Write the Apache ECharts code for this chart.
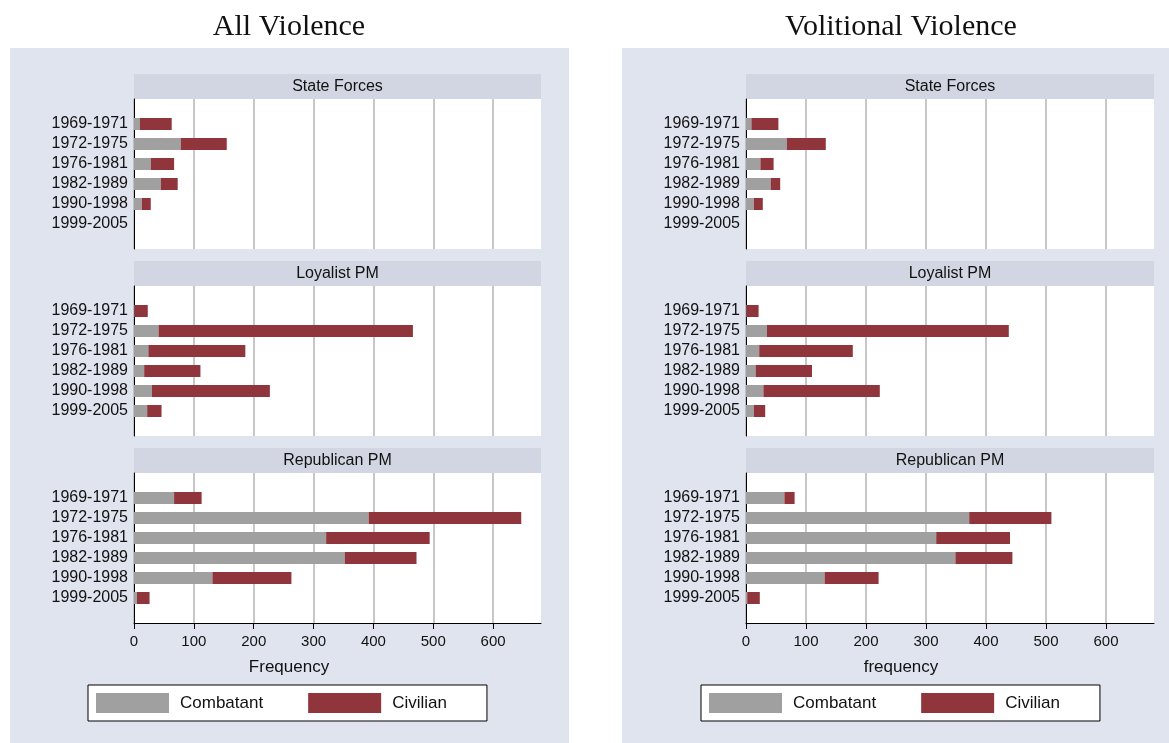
<!DOCTYPE html>
<html><head><meta charset="utf-8">
<script src="https://cdn.jsdelivr.net/npm/echarts@6/dist/echarts.min.js"></script>
<style>html,body{margin:0;padding:0;background:#fff}#c{width:1169px;height:743px}</style>
</head><body><div id="c"></div>
<script>
const periods = ['1969-1971','1972-1975','1976-1981','1982-1989','1990-1998','1999-2005'];
const groups = ['State Forces','Loyalist PM','Republican PM'];
const xTicks = [0,100,200,300,400,500,600];
// All Violence
const allStateComb = [10,78,28,45,13,0];
const allStateCiv  = [53,77,39,28,15,0];
const allLoyComb   = [1,41,24,17,30,22];
const allLoyCiv    = [22,425,162,94,197,24];
const allRepComb   = [67,392,321,352,131,5];
const allRepCiv    = [46,255,173,120,132,21];
// Volitional Violence
const volStateComb = [9,68,24,41,13,0];
const volStateCiv  = [45,65,22,16,15,0];
const volLoyComb   = [1,35,22,16,29,13];
const volLoyCiv    = [20,403,156,94,194,19];
const volRepComb   = [64,372,317,349,131,2];
const volRepCiv    = [17,137,123,95,90,21];

const COMB = '#a0a0a0', CIV = '#90353c';
const PANEL = '#e0e4ef', HEAD = '#d1d6e2', GRIDC = '#b5b5b5';
const FONT = 'Liberation Sans, Arial, sans-serif';
const XMAX = 680;
const TICKMAX = xTicks[xTicks.length-1];

const panels = [
  {title:'All Violence', xlab:'Frequency', px:10, cx:289, left:134, width:407, legendLeft:88,
   data:[[allStateComb,allStateCiv],[allLoyComb,allLoyCiv],[allRepComb,allRepCiv]]},
  {title:'Volitional Violence', xlab:'frequency', px:622, cx:901, left:746, width:408, legendLeft:701,
   data:[[volStateComb,volStateCiv],[volLoyComb,volLoyCiv],[volRepComb,volRepCiv]]}
];
const plotTops = [99,286,473];
const grid=[], xAxis=[], yAxis=[], series=[], graphic=[], legend=[];

panels.forEach((p,pi)=>{
  graphic.push({type:'rect', z:-100, shape:{x:p.px,y:48,width:559,height:695}, style:{fill:PANEL}});
  graphic.push({type:'text', x:p.cx, y:27, style:{text:p.title, font:'30px "Liberation Serif", serif', fill:'#111', align:'center', verticalAlign:'middle'}});
  graphic.push({type:'text', x:p.cx, y:667, style:{text:p.xlab, font:'17px '+FONT, fill:'#111', align:'center', verticalAlign:'middle'}});
  p.data.forEach((d,gi)=>{
    const top = plotTops[gi];
    const isBottom = gi===2;
    graphic.push({type:'rect', shape:{x:p.left,y:top-25,width:p.width,height:25}, style:{fill:HEAD}});
    graphic.push({type:'text', x:p.left+p.width/2, y:top-12.5, style:{text:groups[gi], font:'16px '+FONT, fill:'#111', align:'center', verticalAlign:'middle'}});
    // plot area: white background, gridlines
    const gl = grid.length;
    grid.push({left:p.left, top:top, width:p.width*TICKMAX/XMAX, height:150});
    xAxis.push({type:'value', gridIndex:gl, min:0, max:TICKMAX, interval:100, z:0,
      axisLine:{show:false},
      axisTick:{show:isBottom, length:6, lineStyle:{color:'#000'}},
      axisLabel:{show:isBottom, margin:11, fontSize:15, color:'#111', fontFamily:FONT},
      splitLine:{show:true, lineStyle:{color:GRIDC, width:1.5}}});
    yAxis.push({type:'value', gridIndex:gl, min:0, max:1, show:false, splitLine:{show:false}});
    // axis-line grid (full width)
    const bg = grid.length;
    grid.push({left:p.left, top:top, width:p.width, height:150, show:true, backgroundColor:'#fff', borderWidth:0});
    xAxis.push({type:'value', gridIndex:bg, min:0, max:XMAX, z:1,
      axisLine:{show:isBottom, onZero:false, lineStyle:{color:'#000', width:1}},
      axisTick:{show:false}, axisLabel:{show:false}, splitLine:{show:false}});
    yAxis.push({type:'value', gridIndex:bg, min:0, max:1, z:1,
      axisLine:{show:true, onZero:false, lineStyle:{color:'#000', width:1}},
      axisTick:{show:false}, axisLabel:{show:false}, splitLine:{show:false}});
    // bar grid
    const bi = grid.length;
    grid.push({left:p.left, top:top+15, width:p.width, height:120});
    xAxis.push({type:'value', gridIndex:bi, min:0, max:XMAX, show:false, splitLine:{show:false}});
    yAxis.push({type:'category', gridIndex:bi, data:periods, inverse:true,
      axisLine:{show:false}, axisTick:{show:false}, splitLine:{show:false},
      axisLabel:{interval:0, margin:6, fontSize:16, color:'#111', fontFamily:FONT}});
    const stack = 's'+pi+'_'+gi;
    series.push({type:'bar', name:'Combatant', xAxisIndex:bi, yAxisIndex:bi, stack, data:d[0], barWidth:12,
      itemStyle:{color:COMB}, emphasis:{disabled:true}, animation:false});
    series.push({type:'bar', name:'Civilian', xAxisIndex:bi, yAxisIndex:bi, stack, data:d[1], barWidth:12,
      itemStyle:{color:CIV}, emphasis:{disabled:true}, animation:false});
  });
  legend.push({data:['Combatant','Civilian'], left:p.legendLeft, top:685, orient:'horizontal',
    itemWidth:73, itemHeight:20, itemGap:45, padding:[8,40,8,8],
    backgroundColor:'#fff', borderColor:'#000', borderWidth:1, borderRadius:0,
    selectedMode:false, icon:'rect',
    textStyle:{fontSize:17, color:'#111', fontFamily:FONT, padding:[0,0,0,6]}});
});

const chart = echarts.init(document.getElementById('c'), null, {renderer:'canvas'});
chart.setOption({backgroundColor:'#fff', animation:false, grid, xAxis, yAxis, series, graphic, legend});
</script></body></html>
